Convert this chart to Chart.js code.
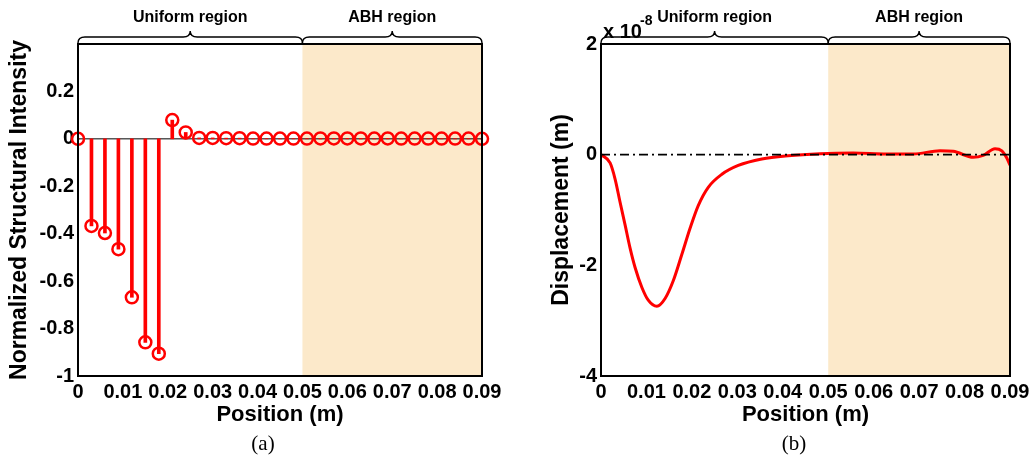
<!DOCTYPE html>
<html>
<head>
<meta charset="utf-8">
<script src="https://cdn.jsdelivr.net/npm/chart.js"></script>
<style>
  body { margin: 0; background: #fff; width: 1035px; height: 457px; position: relative; overflow: hidden; }
  .panel { position: absolute; top: 0; }
  .cap { position: absolute; top: 431px; height: 28px; line-height: 28px; text-align: center;
         font: 21px "Liberation Serif", "Times New Roman", serif; color: #000; }
</style>
</head>
<body>
<canvas id="chartA" class="panel" width="517" height="457" style="left:0"></canvas>
<canvas id="chartB" class="panel" width="518" height="457" style="left:517px"></canvas>
<div class="cap" style="left:213px;width:100px">(a)</div>
<div class="cap" style="left:744px;width:100px">(b)</div>
<script>
// (a) normalized structural intensity, stem plot
const posA = [0, 0.003, 0.006, 0.009, 0.012, 0.015, 0.018, 0.021, 0.024, 0.027,
  0.03, 0.033, 0.036, 0.039, 0.042, 0.045, 0.048, 0.051, 0.054, 0.057,
  0.06, 0.063, 0.066, 0.069, 0.072, 0.075, 0.078, 0.081, 0.084, 0.087, 0.09];
const intA = [0, -0.367, -0.397, -0.465, -0.668, -0.858, -0.906, 0.079, 0.027, 0.004,
  0.004, 0.003, 0.003, 0.001, 0.001, 0.001, 0.001, 0.001, 0.002, 0.002,
  0.002, 0.002, 0.001, 0.002, 0.001, 0.001, 0.001, 0.001, 0.001, 0.001, 0];

// (b) displacement, units of 1e-8 m
const posB = [0, 0.002, 0.0031, 0.0042, 0.0053, 0.0064, 0.0075, 0.009, 0.0104, 0.0123,
  0.0141, 0.0159, 0.0178, 0.0196, 0.0214, 0.0236, 0.0266, 0.0302, 0.0354, 0.0412,
  0.0482, 0.0555, 0.0629, 0.0687, 0.0746, 0.0775, 0.0819, 0.0841, 0.0867, 0.0882, 0.0893, 0.09];
const dispB = [0, -0.15, -0.44, -0.86, -1.27, -1.69, -2.04, -2.4, -2.63, -2.74,
  -2.6, -2.28, -1.8, -1.33, -0.92, -0.59, -0.355, -0.195, -0.077, -0.018,
  0.018, 0.03, 0.012, 0.012, 0.07, 0.06, -0.047, -0.012, 0.107, 0.07, -0.06, -0.19];

const xTicks = [0, 0.01, 0.02, 0.03, 0.04, 0.05, 0.06, 0.07, 0.08, 0.09];
const yTicksA = [-1, -0.8, -0.6, -0.4, -0.2, 0, 0.2];
const yTicksB = [-4, -2, 0, 2];
const regions = [
  { label: 'Uniform region', from: 0, to: 0.05 },
  { label: 'ABH region', from: 0.05, to: 0.09 }
];

const RED = '#ff0000';
const SHADE = 'rgb(252,233,202)';
Chart.defaults.font.family = '"Liberation Sans", Arial, sans-serif';
Chart.defaults.font.weight = 'bold';
Chart.defaults.color = '#000';

function brace(ctx, x0, x1) {
  const xm = (x0 + x1) / 2, r = 7, yEnd = 43, yLine = 37, yTip = 31;
  ctx.beginPath();
  ctx.moveTo(x0, yEnd);
  ctx.quadraticCurveTo(x0, yLine, x0 + r, yLine);
  ctx.lineTo(xm - r, yLine);
  ctx.quadraticCurveTo(xm, yLine, xm, yTip);
  ctx.quadraticCurveTo(xm, yLine, xm + r, yLine);
  ctx.lineTo(x1 - r, yLine);
  ctx.quadraticCurveTo(x1, yLine, x1, yEnd);
  ctx.stroke();
}

const decor = {
  id: 'decor',
  beforeDatasetsDraw(chart) {
    const { ctx, chartArea: a, scales: { x } } = chart;
    ctx.save();
    ctx.fillStyle = SHADE;
    const x0 = x.getPixelForValue(0.05), x1 = x.getPixelForValue(0.09);
    ctx.fillRect(x0, a.top, x1 - x0, a.bottom - a.top);
    ctx.restore();
  },
  afterDraw(chart, args, opts) {
    const { ctx, chartArea: a, scales: { x } } = chart;
    ctx.save();
    ctx.strokeStyle = '#000';
    ctx.lineWidth = 2;
    ctx.strokeRect(a.left, a.top, a.right - a.left, a.bottom - a.top);
    ctx.lineWidth = 1.4;
    ctx.fillStyle = '#000';
    ctx.font = 'bold 16px "Liberation Sans", Arial, sans-serif';
    ctx.textAlign = 'center';
    ctx.textBaseline = 'middle';
    regions.forEach(r => {
      const p0 = x.getPixelForValue(r.from), p1 = x.getPixelForValue(r.to);
      brace(ctx, p0, p1);
      ctx.fillText(r.label, (p0 + p1) / 2, 18);
    });
    if (opts.exponent) {
      ctx.textAlign = 'left';
      ctx.textBaseline = 'alphabetic';
      ctx.font = 'bold 20px "Liberation Sans", Arial, sans-serif';
      ctx.fillText('x 10', a.left + 2, 38);
      ctx.font = 'bold 14px "Liberation Sans", Arial, sans-serif';
      ctx.fillText('-8', a.left + 39, 25);
    }
    ctx.restore();
  }
};

function xScale() {
  return {
    type: 'linear', min: 0, max: 0.09, offset: false,
    afterBuildTicks: s => { s.ticks = xTicks.map(v => ({ value: v })); },
    afterFit: s => { s.height = 52; },
    grid: { display: false, drawTicks: false },
    border: { display: false },
    ticks: { padding: 4, font: { size: 20 }, maxRotation: 0, autoSkip: false,
      callback: v => v === 0 ? '0' : v.toFixed(2) },
    title: { display: true, text: 'Position (m)', font: { size: 22 }, padding: 0 }
  };
}

new Chart(document.getElementById('chartA'), {
  type: 'bar',
  data: {
    datasets: [
      { type: 'line', data: [{ x: 0, y: 0 }, { x: 0.09, y: 0 }], borderColor: '#000',
        borderWidth: 1, pointRadius: 0, order: 3 },
      { type: 'bar', data: posA.map((p, i) => ({ x: p, y: intA[i] })), backgroundColor: RED,
        barThickness: 3, order: 2 },
      { type: 'line', data: posA.map((p, i) => ({ x: p, y: intA[i] })), showLine: false,
        pointStyle: 'circle', pointRadius: 6, pointBorderWidth: 2.5, pointBorderColor: RED,
        pointBackgroundColor: 'rgba(0,0,0,0)', clip: false, order: 1 }
    ]
  },
  options: {
    responsive: false, animation: false,
    layout: { padding: { left: 0, right: 35, top: 44, bottom: 29 } },
    plugins: { legend: { display: false }, tooltip: { enabled: false }, decor: {} },
    scales: {
      x: xScale(),
      y: {
        min: -1, max: 0.4,
        afterBuildTicks: s => { s.ticks = yTicksA.map(v => ({ value: v })); },
        afterFit: s => { s.width = 78; },
        grid: { display: false, drawTicks: false },
        border: { display: false },
        ticks: { padding: 4, font: { size: 20 }, callback: v => String(Math.round(v * 10) / 10) },
        title: { display: true, text: 'Normalized Structural Intensity', font: { size: 23 }, padding: { top: 6 } }
      }
    }
  },
  plugins: [decor]
});

new Chart(document.getElementById('chartB'), {
  type: 'line',
  data: {
    datasets: [
      { data: [{ x: 0, y: 0 }, { x: 0.09, y: 0 }], borderColor: '#000', borderWidth: 1.6,
        borderDash: [9, 4, 2, 4], pointRadius: 0, order: 1 },
      { data: posB.map((p, i) => ({ x: p, y: dispB[i] })), borderColor: RED, borderWidth: 3,
        pointRadius: 0, cubicInterpolationMode: 'monotone', order: 2 }
    ]
  },
  options: {
    responsive: false, animation: false,
    layout: { padding: { left: 0, right: 25, top: 44, bottom: 29 } },
    plugins: { legend: { display: false }, tooltip: { enabled: false }, decor: { exponent: true } },
    scales: {
      x: xScale(),
      y: {
        min: -4, max: 2,
        afterBuildTicks: s => { s.ticks = yTicksB.map(v => ({ value: v })); },
        afterFit: s => { s.width = 84; },
        grid: { display: false, drawTicks: false },
        border: { display: false },
        ticks: { padding: 4, font: { size: 20 } },
        title: { display: true, text: 'Displacement (m)', font: { size: 23 }, padding: { top: 31 } }
      }
    }
  },
  plugins: [decor]
});
</script>
</body>
</html>
